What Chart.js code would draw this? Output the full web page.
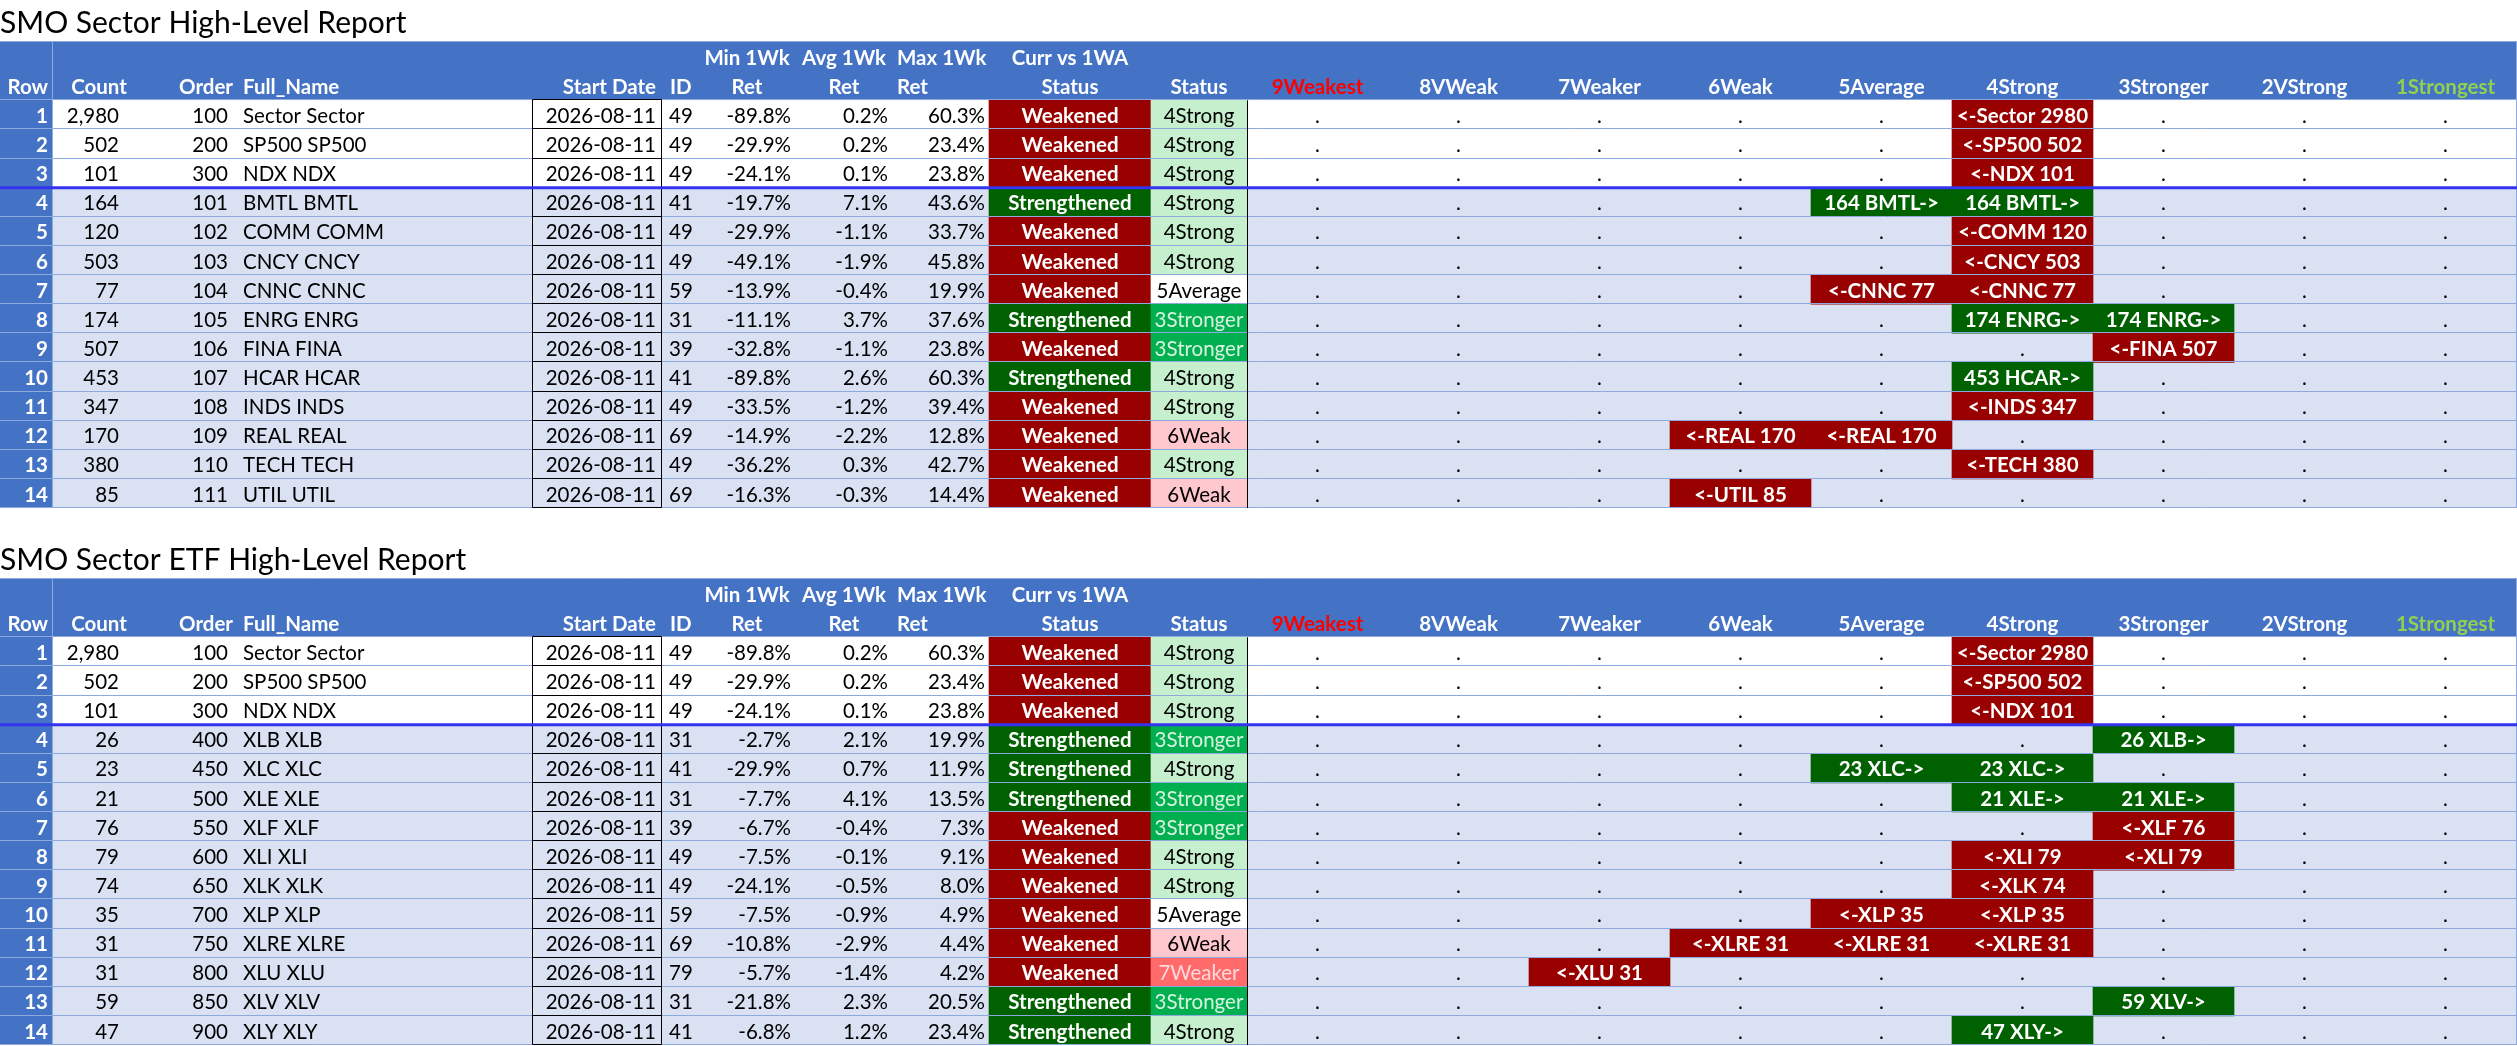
<!DOCTYPE html>
<html>
<head>
<meta charset="utf-8">
<script src="https://cdn.jsdelivr.net/npm/chart.js@4.4.1/dist/chart.umd.min.js"></script>
<style>
  body { margin: 0; background: #fff; }
  canvas { display: block; }
</style>
</head>
<body>
<canvas id="sector" width="2517" height="537"></canvas>
<canvas id="etf" width="2517" height="509"></canvas>
<script>
// rank names, index = rank number; columns run 9 (left) .. 1 (right)
var rankNames = ['', '1Strongest', '2VStrong', '3Stronger', '4Strong', '5Average', '6Weak', '7Weaker', '8VWeak', '9Weakest'];
var startDate = '2026-08-11';

// SMO Sector High-Level Report
var secCount = [2980, 502, 101, 164, 120, 503, 77, 174, 507, 453, 347, 170, 380, 85];
var secOrder = [100, 200, 300, 101, 102, 103, 104, 105, 106, 107, 108, 109, 110, 111];
var secName = ['Sector Sector', 'SP500 SP500', 'NDX NDX', 'BMTL BMTL', 'COMM COMM', 'CNCY CNCY', 'CNNC CNNC',
               'ENRG ENRG', 'FINA FINA', 'HCAR HCAR', 'INDS INDS', 'REAL REAL', 'TECH TECH', 'UTIL UTIL'];
var secId = [49, 49, 49, 41, 49, 49, 59, 31, 39, 41, 49, 69, 49, 69];
var secMin = [-89.8, -29.9, -24.1, -19.7, -29.9, -49.1, -13.9, -11.1, -32.8, -89.8, -33.5, -14.9, -36.2, -16.3];
var secAvg = [0.2, 0.2, 0.1, 7.1, -1.1, -1.9, -0.4, 3.7, -1.1, 2.6, -1.2, -2.2, 0.3, -0.3];
var secMax = [60.3, 23.4, 23.8, 43.6, 33.7, 45.8, 19.9, 37.6, 23.8, 60.3, 39.4, 12.8, 42.7, 14.4];
var secTrend = ['Weakened', 'Weakened', 'Weakened', 'Strengthened', 'Weakened', 'Weakened', 'Weakened',
                'Strengthened', 'Weakened', 'Strengthened', 'Weakened', 'Weakened', 'Weakened', 'Weakened'];
var secRank = [4, 4, 4, 4, 4, 4, 5, 3, 3, 4, 4, 6, 4, 6];
var secPrev = [4, 4, 4, 5, 4, 4, 4, 4, 3, 4, 4, 5, 4, 6];

// SMO Sector ETF High-Level Report
var etfCount = [2980, 502, 101, 26, 23, 21, 76, 79, 74, 35, 31, 31, 59, 47];
var etfOrder = [100, 200, 300, 400, 450, 500, 550, 600, 650, 700, 750, 800, 850, 900];
var etfName = ['Sector Sector', 'SP500 SP500', 'NDX NDX', 'XLB XLB', 'XLC XLC', 'XLE XLE', 'XLF XLF',
               'XLI XLI', 'XLK XLK', 'XLP XLP', 'XLRE XLRE', 'XLU XLU', 'XLV XLV', 'XLY XLY'];
var etfId = [49, 49, 49, 31, 41, 31, 39, 49, 49, 59, 69, 79, 31, 41];
var etfMin = [-89.8, -29.9, -24.1, -2.7, -29.9, -7.7, -6.7, -7.5, -24.1, -7.5, -10.8, -5.7, -21.8, -6.8];
var etfAvg = [0.2, 0.2, 0.1, 2.1, 0.7, 4.1, -0.4, -0.1, -0.5, -0.9, -2.9, -1.4, 2.3, 1.2];
var etfMax = [60.3, 23.4, 23.8, 19.9, 11.9, 13.5, 7.3, 9.1, 8.0, 4.9, 4.4, 4.2, 20.5, 23.4];
var etfTrend = ['Weakened', 'Weakened', 'Weakened', 'Strengthened', 'Strengthened', 'Strengthened', 'Weakened',
                'Weakened', 'Weakened', 'Weakened', 'Weakened', 'Weakened', 'Strengthened', 'Strengthened'];
var etfRank = [4, 4, 4, 3, 4, 3, 3, 4, 4, 5, 6, 7, 3, 4];
var etfPrev = [4, 4, 4, 3, 5, 4, 3, 3, 4, 4, 4, 7, 3, 4];

// layout (x in px units of the linear x scale)
var FULL_W = 2517;
var ROW_R = 52;
var DATE_L = 532, DATE_R = 661;
var TREND_L = 989, TREND_R = 1151;
var STATUS_L = 1151, STATUS_R = 1247;
var RANK_X0 = 1247, RANK_W = 141;
var FONT = 'Lato, "Noto Sans", sans-serif';
var FSIZE = 20.5;

var HEAD = '#4472C4';
var GRID = '#8EA9DB';
var trendColor = { Weakened: '#990000', Strengthened: '#006100' };
var statusStyle = {
  3: { bg: '#00B050', fg: '#D8F3DF' },
  4: { bg: '#C6EFCE', fg: '#000000' },
  5: { bg: '#FFFFFF', fg: '#000000' },
  6: { bg: '#FFC7CE', fg: '#000000' },
  7: { bg: '#FF6B6B', fg: '#FFD9DD' }
};

// header text: [text, line, x, align]
var headCells = [
  ['Min 1Wk', 0, 747, 'center'], ['Avg 1Wk', 0, 844, 'center'], ['Max 1Wk', 0, 897, 'left'],
  ['Curr vs 1WA', 0, 1070, 'center'],
  ['Row', 1, 48, 'right'], ['Count', 1, 99, 'center'], ['Order', 1, 233, 'right'],
  ['Full_Name', 1, 243, 'left'], ['Start Date', 1, 656, 'right'], ['ID', 1, 670, 'left'],
  ['Ret', 1, 747, 'center'], ['Ret', 1, 844, 'center'], ['Ret', 1, 897, 'left'],
  ['Status', 1, 1070, 'center'], ['Status', 1, 1199, 'center']
];
var rankHeadColor = { 9: '#FF0000', 1: '#92D050' };

function colLeft(r) { return RANK_X0 + RANK_W * (9 - r); }
function pct(v) { return v.toFixed(1) + '%'; }
function shortName(s) { return s.split(' ')[0]; }
function rankLabel(t, i) {
  var nm = shortName(t.name[i]);
  return t.trend[i] === 'Weakened' ? '<-' + nm + ' ' + t.count[i] : t.count[i] + ' ' + nm + '->';
}

var tablePlugin = {
  id: 'tableText',
  afterDatasetsDraw: function (chart) {
    var t = chart.options.plugins.tableText.rows;
    var ctx = chart.ctx, xs = chart.scales.x, ys = chart.scales.y;
    var n = t.count.length;
    function X(v) { return xs.getPixelForValue(v); }
    function edge(k) { return ys.getPixelForValue(k - 0.5); }
    function mid(k) { return ys.getPixelForValue(k) + 1.5; }
    function text(s, x, y, align, color, bold) {
      ctx.font = (bold ? 'bold ' : '') + FSIZE + 'px ' + FONT;
      ctx.fillStyle = color;
      ctx.textAlign = align;
      ctx.textBaseline = 'middle';
      ctx.fillText(s, X(x), y);
    }
    ctx.save();

    // light grid
    ctx.strokeStyle = GRID;
    ctx.lineWidth = 1;
    ctx.beginPath();
    var lines = [0, 2];
    for (var k = 3; k <= n + 2; k++) lines.push(k);
    lines.forEach(function (k) {
      var y = Math.round(edge(k)) - 0.5;
      ctx.moveTo(X(0), y); ctx.lineTo(X(FULL_W), y);
    });
    [ROW_R, FULL_W - 1].forEach(function (v) {
      var x = Math.round(X(v)) + 0.5;
      ctx.moveTo(x, edge(0)); ctx.lineTo(x, edge(n + 2));
    });
    ctx.stroke();

    // black borders: start date cells and status column edge
    ctx.strokeStyle = '#000';
    ctx.beginPath();
    for (var i = 0; i < n; i++) {
      var y0 = Math.round(edge(i + 2)) - 0.5, y1 = Math.round(edge(i + 3)) - 0.5;
      ctx.rect(X(DATE_L) + 0.5, y0, X(DATE_R) - X(DATE_L), y1 - y0);
    }
    ctx.moveTo(X(STATUS_R) + 0.5, edge(2)); ctx.lineTo(X(STATUS_R) + 0.5, edge(n + 2));
    ctx.stroke();

    // blue separator under the three index rows
    ctx.strokeStyle = '#3333F0';
    ctx.lineWidth = 3;
    ctx.beginPath();
    ctx.moveTo(X(0), edge(5)); ctx.lineTo(X(FULL_W), edge(5));
    ctx.stroke();

    // header text
    headCells.forEach(function (h) {
      text(h[0], h[2], mid(h[1]), h[3], '#FFFFFF', true);
    });
    for (var r = 9; r >= 1; r--) {
      text(rankNames[r], colLeft(r) + RANK_W / 2, mid(1), 'center', rankHeadColor[r] || '#FFFFFF', true);
    }

    // body text
    for (i = 0; i < n; i++) {
      var y = mid(i + 2);
      text(String(i + 1), 48, y, 'right', '#FFFFFF', true);
      text(t.count[i].toLocaleString('en-US'), 119, y, 'right', '#000');
      text(String(t.order[i]), 228, y, 'right', '#000');
      text(t.name[i], 243, y, 'left', '#000');
      text(startDate, 656, y, 'right', '#000');
      text(String(t.id[i]), 669, y, 'left', '#000');
      text(pct(t.min[i]), 791, y, 'right', '#000');
      text(pct(t.avg[i]), 888, y, 'right', '#000');
      text(pct(t.max[i]), 985, y, 'right', '#000');
      text(t.trend[i], (TREND_L + TREND_R) / 2, y, 'center', '#FFFFFF', true);
      text(rankNames[t.rank[i]], (STATUS_L + STATUS_R) / 2, y, 'center', statusStyle[t.rank[i]].fg);
      var lo = Math.min(t.rank[i], t.prev[i]), hi = Math.max(t.rank[i], t.prev[i]);
      for (r = 9; r >= 1; r--) {
        var cx = colLeft(r) + RANK_W / 2;
        if (r >= lo && r <= hi) text(rankLabel(t, i), cx, y, 'center', '#FFFFFF', true);
        else text('.', cx, y, 'center', '#000');
      }
    }
    ctx.restore();
  }
};

function buildTable(id, title, t, padBottom) {
  var n = t.count.length;
  var labels = ['h1', 'h2'];
  for (var i = 1; i <= n; i++) labels.push(String(i));

  var bg = [{ x: [0, FULL_W], y: 'h1' }, { x: [0, FULL_W], y: 'h2' }], bgCol = [HEAD, HEAD];
  var rowNo = [], trendBars = [], trendCols = [], statusBars = [], statusCols = [], rankBars = [], rankCols = [];
  for (i = 0; i < n; i++) {
    var y = labels[i + 2];
    bg.push({ x: [ROW_R, FULL_W], y: y });
    bgCol.push(i < 3 ? '#FFFFFF' : '#D9E1F2');
    rowNo.push({ x: [0, ROW_R], y: y });
    trendBars.push({ x: [TREND_L, TREND_R], y: y });
    trendCols.push(trendColor[t.trend[i]]);
    statusBars.push({ x: [STATUS_L, STATUS_R], y: y });
    statusCols.push(statusStyle[t.rank[i]].bg);
    var lo = Math.min(t.rank[i], t.prev[i]), hi = Math.max(t.rank[i], t.prev[i]);
    rankBars.push({ x: [colLeft(hi), colLeft(lo) + RANK_W], y: y });
    rankCols.push(trendColor[t.trend[i]]);
  }
  // order: higher value is drawn first (underneath)
  function ds(data, color, order) {
    return { data: data, backgroundColor: color, grouped: false, categoryPercentage: 1, barPercentage: 1,
             borderWidth: 0, order: order };
  }

  return new Chart(document.getElementById(id), {
    type: 'bar',
    data: {
      labels: labels,
      datasets: [ds(bg, bgCol, 5), ds(rowNo, HEAD, 4), ds(trendBars, trendCols, 3),
                 ds(statusBars, statusCols, 2), ds(rankBars, rankCols, 1)]
    },
    options: {
      indexAxis: 'y',
      responsive: false,
      animation: false,
      events: [],
      layout: { padding: { left: 0, right: 0, top: 0, bottom: padBottom } },
      plugins: {
        legend: { display: false },
        tooltip: { enabled: false },
        title: {
          display: true, text: title, align: 'start', color: '#000',
          font: { family: FONT, size: 30, weight: 'normal', lineHeight: 1.2 },
          padding: { top: 5, bottom: 1 }
        },
        tableText: { rows: t }
      },
      scales: {
        x: { type: 'linear', min: 0, max: FULL_W, display: false },
        y: { type: 'category', display: false, offset: true }
      }
    },
    plugins: [tablePlugin]
  });
}

buildTable('sector', 'SMO Sector High-Level Report', {
  count: secCount, order: secOrder, name: secName, id: secId, min: secMin, avg: secAvg, max: secMax,
  trend: secTrend, rank: secRank, prev: secPrev
}, 29);

buildTable('etf', 'SMO Sector ETF High-Level Report', {
  count: etfCount, order: etfOrder, name: etfName, id: etfId, min: etfMin, avg: etfAvg, max: etfMax,
  trend: etfTrend, rank: etfRank, prev: etfPrev
}, 1);
</script>
</body>
</html>
